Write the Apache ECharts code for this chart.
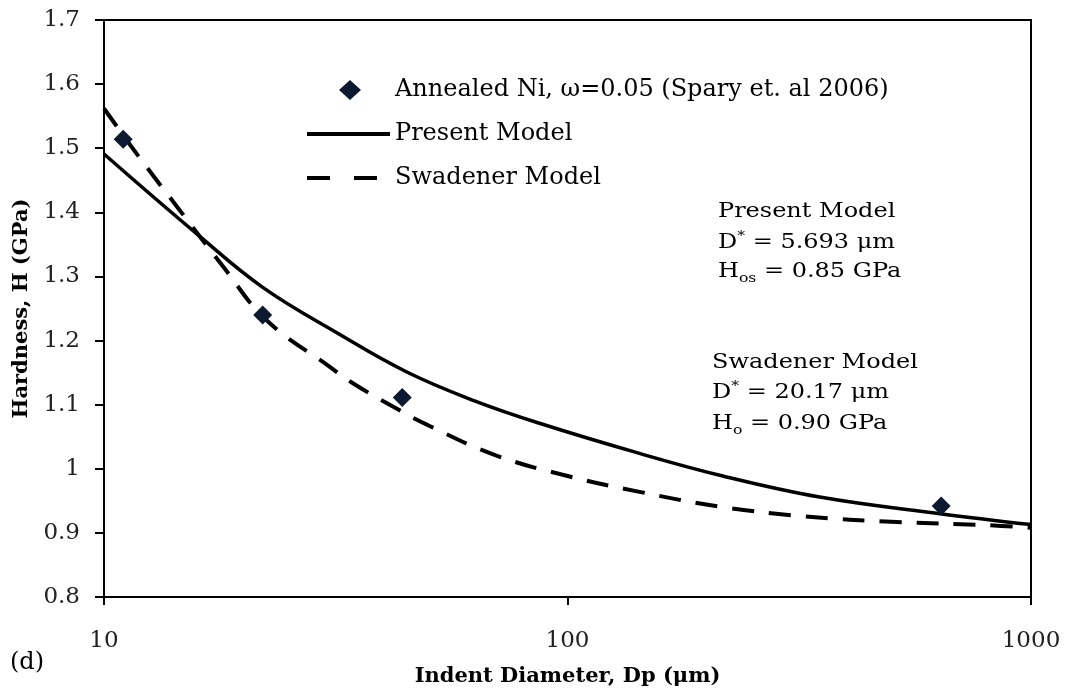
<!DOCTYPE html>
<html>
<head>
<meta charset="utf-8">
<script src="https://cdn.jsdelivr.net/npm/echarts@6/dist/echarts.min.js"></script>
<style>
  html, body { margin: 0; padding: 0; background: #fff; }
  #chart { width: 1069px; height: 696px; }
</style>
</head>
<body>
<div id="chart"></div>
<script>
// Measured hardness of annealed Ni (indent diameter in µm, hardness in GPa)
const measuredD = [11, 22, 44, 640];
const measuredH = [1.514, 1.240, 1.111, 0.942];

// Present model curve
const presentD = [10, 16, 22, 32, 45, 63, 87, 143, 213, 350, 636, 1000];
const presentH = [1.491, 1.364, 1.283, 1.211, 1.151, 1.106, 1.071, 1.024, 0.990, 0.956, 0.930, 0.913];

// Swadener model curve
const swadenerD = [10, 11.8, 14.4, 18, 22.4, 30.7, 34.5, 42, 50, 70, 101, 143, 213, 322, 513, 802, 1000];
const swadenerH = [1.562, 1.490, 1.408, 1.317, 1.232, 1.159, 1.133, 1.097, 1.068, 1.021, 0.988, 0.964, 0.941, 0.926, 0.917, 0.912, 0.908];

const seriesNames = [
  'Annealed Ni, ω=0.05 (Spary et. al 2006)',
  'Present Model',
  'Swadener Model'
];

const pair = (xs, ys) => xs.map((x, i) => [x, ys[i]]);
const FONT = "'DejaVu Serif', 'Liberation Serif', serif";

// Legend diamond: a small diamond inside a wide, otherwise empty icon box
const legendDiamond = 'path://M0 0L0.01 0L0 0.01Z M83 20L82.99 20L83 19.99Z M43 0L54 10L43 20L32 10Z';

const richNote = {
  b:   { fontFamily: FONT, fontSize: 20, lineHeight: 26, verticalAlign: 'middle', color: '#000' },
  sup: { fontFamily: FONT, fontSize: 13, lineHeight: 26, verticalAlign: 'top', color: '#000' },
  sub: { fontFamily: FONT, fontSize: 13, lineHeight: 26, verticalAlign: 'bottom', color: '#000' }
};
function note(x, y, text) {
  return {
    type: 'text', x: x, y: y, scaleX: 1.2,
    style: { text: text, rich: richNote, verticalAlign: 'middle', align: 'left' }
  };
}

const chart = echarts.init(document.getElementById('chart'));
chart.setOption({
  backgroundColor: '#fff',
  animation: false,
  grid: {
    left: 104, right: 38, top: 20, bottom: 99,
    show: true, borderColor: '#000', borderWidth: 2, backgroundColor: 'transparent'
  },
  legend: {
    orient: 'vertical',
    left: 300, top: 72,
    itemWidth: 83, itemHeight: 20, itemGap: 18,
    data: [
      { name: seriesNames[0], icon: legendDiamond },
      { name: seriesNames[1], itemStyle: { opacity: 0 }, lineStyle: { width: 4, type: 'solid' } },
      { name: seriesNames[2], itemStyle: { opacity: 0 }, lineStyle: { width: 4, type: [23, 24] } }
    ],
    textStyle: { fontFamily: FONT, fontSize: 24, color: '#000', lineHeight: 26 }
  },
  xAxis: {
    type: 'log', logBase: 10, min: 10, max: 1000,
    name: 'Indent Diameter, Dp (μm)',
    nameLocation: 'middle', nameGap: 69,
    nameTextStyle: { fontFamily: FONT, fontSize: 21, fontWeight: 'bold', color: '#000' },
    axisLine: { lineStyle: { color: '#000', width: 2 } },
    axisTick: { show: true, length: 8, lineStyle: { color: '#000', width: 2 } },
    minorTick: { show: false },
    splitLine: { show: false },
    axisLabel: {
      fontFamily: FONT, fontSize: 23, color: '#222', margin: 33,
      formatter: function (v) { return String(Math.round(v)); }
    }
  },
  yAxis: {
    type: 'value', min: 0.8, max: 1.7, interval: 0.1,
    name: 'Hardness, H (GPa)',
    nameLocation: 'middle', nameGap: 60,
    nameTextStyle: { fontFamily: FONT, fontSize: 21, fontWeight: 'bold', color: '#000' },
    axisLine: { show: true, lineStyle: { color: '#000', width: 2 } },
    axisTick: { show: true, length: 9, lineStyle: { color: '#000', width: 2 } },
    splitLine: { show: false },
    axisLabel: { fontFamily: FONT, fontSize: 23, color: '#222', margin: 24 }
  },
  series: [
    {
      name: seriesNames[0], type: 'scatter',
      data: pair(measuredD, measuredH),
      symbol: 'diamond', symbolSize: 19,
      itemStyle: { color: '#0b1a30', opacity: 1 },
      z: 5
    },
    {
      name: seriesNames[1], type: 'line',
      data: pair(presentD, presentH),
      smooth: 0.4, symbol: 'none',
      lineStyle: { color: '#000', width: 3.5, type: 'solid' },
      itemStyle: { color: '#000' }
    },
    {
      name: seriesNames[2], type: 'line',
      data: pair(swadenerD, swadenerH),
      smooth: 0.4, symbol: 'none',
      lineStyle: { color: '#000', width: 4, type: [22, 15] },
      itemStyle: { color: '#000' }
    }
  ],
  graphic: [
    note(718, 212, '{b|Present Model}'),
    note(718, 243, '{b|D}{sup|*}{b| = 5.693 μm}'),
    note(718, 272, '{b|H}{sub|os}{b| = 0.85 GPa}'),
    note(712, 363, '{b|Swadener Model}'),
    note(712, 393, '{b|D}{sup|*}{b| = 20.17 μm}'),
    note(712, 424, '{b|H}{sub|o}{b| = 0.90 GPa}'),
    {
      type: 'text', x: 10, y: 663,
      style: { text: '(d)', font: "24px 'DejaVu Serif', serif", fill: '#000', verticalAlign: 'middle' }
    }
  ]
});
</script>
</body>
</html>
